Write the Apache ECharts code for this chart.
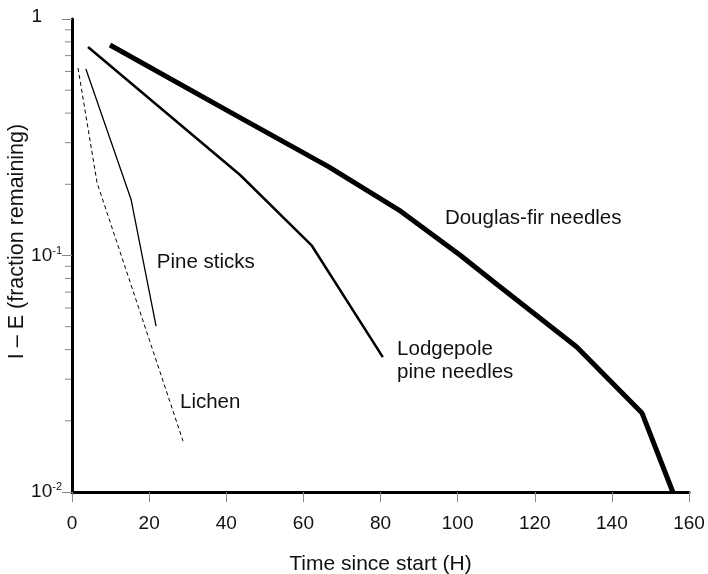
<!DOCTYPE html>
<html>
<head>
<meta charset="utf-8">
<script src="https://cdn.jsdelivr.net/npm/echarts@6/dist/echarts.min.js"></script>
<style>
  html, body { margin: 0; padding: 0; background: #fff; }
  #chart { width: 708px; height: 574px; }
</style>
</head>
<body>
<div id="chart"></div>
<script>
// Fraction remaining (1 - E) against time, log scale
const douglasFir = [[9.85, 0.776], [41.0, 0.404], [66.6, 0.237], [84.7, 0.156], [100.6, 0.1005], [110.4, 0.075], [130.9, 0.041], [147.8, 0.0216], [155.8, 0.01]];
const lodgepole = [[4.15, 0.761], [43.6, 0.219], [62.2, 0.110], [80.6, 0.0372]];
const pineSticks = [[3.6, 0.615], [15.3, 0.173], [21.8, 0.0503]];
const lichen = [[1.56, 0.62], [6.5, 0.203], [28.8, 0.0164]];

const xTicks = [0, 20, 40, 60, 80, 100, 120, 140, 160];
const yMajor = [1, 0.1, 0.01];
const yMinor = [0.9, 0.8, 0.7, 0.6, 0.5, 0.4, 0.3, 0.2, 0.09, 0.08, 0.07, 0.06, 0.05, 0.04, 0.03, 0.02];

const FONT = 'Liberation Sans, Arial, Helvetica, sans-serif';
const INK = '#111';

function curveLabel(coord, text) {
  return {
    symbol: 'circle',
    symbolSize: 0,
    silent: true,
    data: [{
      coord: coord,
      label: {
        show: true,
        position: [0, 0],
        align: 'left',
        verticalAlign: 'middle',
        formatter: text,
        color: INK,
        fontFamily: FONT,
        fontSize: 20.5,
        lineHeight: 23
      }
    }]
  };
}

const chart = echarts.init(document.getElementById('chart'), null, { renderer: 'canvas' });

chart.setOption({
  animation: false,
  backgroundColor: '#fff',
  grid: { left: 72, right: 19, top: 19, bottom: 82, containLabel: false, outerBoundsMode: 'none' },
  xAxis: {
    type: 'value',
    min: xTicks[0],
    max: xTicks[xTicks.length - 1],
    interval: 20,
    name: 'Time since start (H)',
    nameLocation: 'middle',
    nameGap: 62,
    nameMoveOverlap: false,
    nameTextStyle: { color: INK, fontFamily: FONT, fontSize: 21 },
    axisLine: { show: true, onZero: false, lineStyle: { color: '#000', width: 3 } },
    axisTick: { show: true, inside: false, length: 10, lineStyle: { color: '#888', width: 1 } },
    axisLabel: { color: INK, fontFamily: FONT, fontSize: 19, margin: 22 },
    splitLine: { show: false }
  },
  yAxis: {
    type: 'log',
    logBase: 10,
    min: yMajor[2],
    max: yMajor[0],
    name: 'I \u2013 E (fraction remaining)',
    nameLocation: 'middle',
    nameGap: 44,
    nameMoveOverlap: false,
    nameTextStyle: { color: INK, fontFamily: FONT, fontSize: 21.5, padding: [0, 0, 0, 28] },
    axisLine: { show: true, lineStyle: { color: '#000', width: 3 } },
    axisTick: { show: true, inside: false, length: 10, lineStyle: { color: '#888', width: 1 } },
    axisLabel: {
      margin: 10,
      color: INK,
      fontFamily: FONT,
      fontSize: 19,
      formatter: function (v) {
        const p = Math.round(Math.log10(v));
        if (p === 0) return '{one|1}';
        return '{base|10}{sup|' + p + '}';
      },
      rich: {
        one: { fontFamily: FONT, fontSize: 19, color: INK, padding: [0, 20, 4, 0] },
        base: { fontFamily: FONT, fontSize: 19, color: INK },
        sup: { fontFamily: FONT, fontSize: 11, color: INK, verticalAlign: 'bottom', padding: [0, 0, 10, 0] }
      }
    },
    splitLine: { show: false },
    minorTick: { show: false }
  },
  series: [
    {
      name: 'Minor ticks',
      type: 'custom',
      clip: false,
      silent: true,
      data: yMinor.map(function (v) { return [0, v]; }),
      renderItem: function (params, api) {
        const pt = api.coord([api.value(0), api.value(1)]);
        return {
          type: 'line',
          shape: { x1: pt[0] - 7, y1: pt[1], x2: pt[0] - 1, y2: pt[1] },
          style: { stroke: '#888', lineWidth: 1 }
        };
      }
    },
    {
      name: 'Douglas-fir needles',
      type: 'line',
      data: douglasFir,
      showSymbol: false,
      symbol: 'none',
      lineStyle: { color: '#000', width: 5 },
      markPoint: curveLabel([96.7, 0.144], 'Douglas-fir needles')
    },
    {
      name: 'Lodgepole pine needles',
      type: 'line',
      data: lodgepole,
      showSymbol: false,
      symbol: 'none',
      lineStyle: { color: '#000', width: 2.5 },
      markPoint: curveLabel([84.3, 0.0358], 'Lodgepole\npine needles')
    },
    {
      name: 'Pine sticks',
      type: 'line',
      data: pineSticks,
      showSymbol: false,
      symbol: 'none',
      lineStyle: { color: '#000', width: 1.3 },
      markPoint: curveLabel([22.0, 0.0939], 'Pine sticks')
    },
    {
      name: 'Lichen',
      type: 'line',
      data: lichen,
      showSymbol: false,
      symbol: 'none',
      lineStyle: { color: '#000', width: 1, type: [4, 3] },
      markPoint: curveLabel([28.0, 0.024], 'Lichen')
    }
  ]
});
</script>
</body>
</html>
